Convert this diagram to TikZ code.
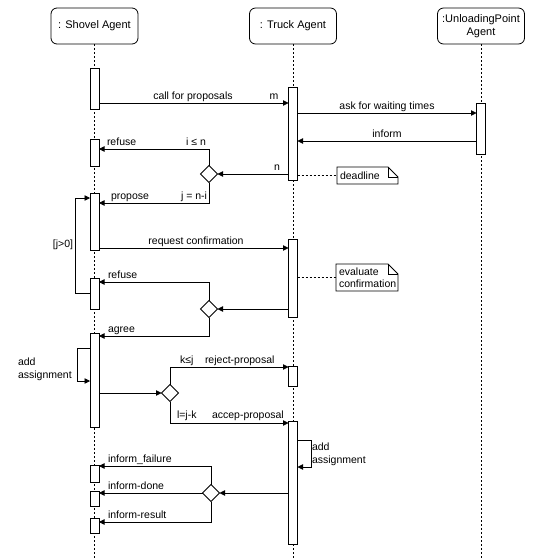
\documentclass[tikz,border=0pt]{standalone}
\usepackage{fontspec}
\setmainfont{Liberation Sans}
\usetikzlibrary{arrows.meta,calc,shapes.geometric}
\begin{document}
\begin{tikzpicture}[x=1pt,y=-1pt,
  every node/.style={inner sep=0pt,outer sep=0pt},
  lbl/.style={font=\fontsize{10.5}{13}\selectfont},
  header/.style={draw,fill=white,rounded corners=6pt,line width=0.8pt,
    minimum width=87pt,minimum height=36pt,align=center,
    font=\fontsize{11}{12.5}\selectfont},
  life/.style={dash pattern=on 2pt off 2pt,line width=0.7pt},
  actbox/.style={draw,fill=white,line width=0.8pt,minimum width=9pt},
  msg/.style={-{Triangle[length=5.5pt,width=5.5pt]},line width=0.8pt},
  dmd/.style={draw,fill=white,diamond,line width=0.8pt,minimum width=17pt,minimum height=17pt},
  notebox/.style={align=left,inner xsep=3pt,font=\fontsize{10.5}{12.5}\selectfont},
  noteline/.style={line width=0.8pt,fill=white}
]
\useasboundingbox (0,0) rectangle (542,558);
\newcommand\myact[4]{\node[actbox,minimum height={#4-#3}] (#1) at (#2,{(#3+#4)/2}) {};}

% headers
\node[header] (shovel) at (94.5,26) {: Shovel Agent};
\node[header] (truck) at (293,26) {: Truck Agent};
\node[header] (unload) at (481,26) {:UnloadingPoint\\Agent};
\coordinate (bottom) at (0,558);

% lifelines
\draw[life] (shovel.south) -- (shovel.south |- bottom);
\draw[life] (truck.south) -- (truck.south |- bottom);
\draw[life] (unload.south) -- (unload.south |- bottom);

% activations
\myact{sA1}{94.5}{68}{109}
\myact{sA2}{94.5}{139}{166}
\myact{sA3}{94.5}{193}{250}
\myact{sA4}{94.5}{278}{309}
\myact{sA5}{94.5}{333}{427}
\myact{sA6}{94.5}{465}{482}
\myact{sA7}{94.5}{491}{506}
\myact{sA8}{94.5}{518}{533}
\myact{tA1}{293}{87}{180}
\myact{tA2}{293}{239}{317}
\myact{tA3}{293}{366}{386}
\myact{tA4}{293}{421}{544}
\myact{uA1}{481}{103}{154}

% decision diamonds
\node[dmd] (d1) at (209,174) {};
\node[dmd] (d2) at (209,309) {};
\node[dmd] (d3) at (170,393) {};
\node[dmd] (d4) at (211,493) {};

% row levels
\coordinate (y103) at (0,103);
\coordinate (y113) at (0,113);
\coordinate (y141) at (0,141);
\coordinate (y149) at (0,149);
\coordinate (y203) at (0,203);
\coordinate (y248) at (0,248);
\coordinate (y282) at (0,282);
\coordinate (y293) at (0,293);
\coordinate (y336) at (0,336);
\coordinate (y348) at (0,348);
\coordinate (y367) at (0,367);
\coordinate (y423) at (0,423);
\coordinate (y440) at (0,440);
\coordinate (y466) at (0,466);
\coordinate (y522) at (0,522);
\coordinate (loopL) at (75,198);
\coordinate (aL) at (77,381);
\coordinate (aR) at (311,467);

% messages
\draw[msg] (sA1.east |- y103) -- (tA1.west |- y103);
\draw[msg] (tA1.east |- y113) -- (uA1.west |- y113);
\draw[msg] (uA1.west |- y141) -- (tA1.east |- y141);
\draw[msg] (tA1.west |- d1) -- (d1.east);
\draw[msg] (d1.north) |- (sA2.east |- y149);
\draw[msg] (d1.south) |- (sA3.east |- y203);
\draw[msg] (sA4.west |- y293) -| (loopL) -- (sA3.west |- loopL);
\draw[msg] (sA3.east |- y248) -- (tA2.west |- y248);
\draw[msg] (tA2.west |- d2) -- (d2.east);
\draw[msg] (d2.north) |- (sA4.east |- y282);
\draw[msg] (d2.south) |- (sA5.east |- y336);
\draw[msg] (sA5.west |- y348) -| (aL) -- (sA5.west |- aL);
\draw[msg] (sA5.east |- d3) -- (d3.west);
\draw[msg] (d3.north) |- (tA3.west |- y367);
\draw[msg] (d3.south) |- (tA4.west |- y423);
\draw[msg] (tA4.east |- y440) -| (aR) -- (tA4.east |- aR);
\draw[msg] (tA4.west |- d4) -- (d4.east);
\draw[msg] (d4.north) |- (sA6.east |- y466);
\draw[msg] (d4.west) -- (sA7.east |- d4);
\draw[msg] (d4.south) |- (sA8.east |- y522);

% labels
\node[lbl,anchor=base] (l1) at (193,99) {call for proposals};
\node[lbl,anchor=base] (l2) at (274,99) {m};
\node[lbl,anchor=base] (l3) at (387,109) {ask for waiting times};
\node[lbl,anchor=base] (l4) at (387,137) {inform};
\node[lbl,anchor=base] (l5) at (277,170) {n};
\node[lbl,anchor=base west] (l6) at (107,145) {refuse};
\node[lbl,anchor=base] (l7) at (196,145) {i ≤ n};
\node[lbl,anchor=base west] (l8) at (111,199) {propose};
\node[lbl,anchor=base] (l9) at (194,199) {j = n-i};
\node[lbl,anchor=base] (l10) at (63,247) {[j>0]};
\node[lbl,anchor=base] (l11) at (196,244) {request confirmation};
\node[lbl,anchor=base west] (l12) at (108,278) {refuse};
\node[lbl,anchor=base west] (l13) at (108,332) {agree};
\node[lbl,anchor=base west] (l14) at (180,363) {k≤j};
\node[lbl,anchor=base west] (l15) at (205,363) {reject-proposal};
\node[lbl,anchor=north west,align=left] (l16) at (18,358) {add\\assignment};
\node[lbl,anchor=base west] (l17) at (177,418) {l=j-k};
\node[lbl,anchor=base west] (l18) at (212,418) {accep-proposal};
\node[lbl,anchor=north west,align=left] (l19) at (312,443) {add\\assignment};
\node[lbl,anchor=base west] (l20) at (108,462) {inform\_failure};
\node[lbl,anchor=base west] (l21) at (108,489) {inform-done};
\node[lbl,anchor=base west] (l22) at (108,518) {inform-result};

% notes
\node[notebox,text width=55pt,minimum height=17pt,anchor=west] (nd1) at (337,175.5) {deadline};
\node[notebox,text width=56pt,minimum height=27pt,anchor=west] (nd2) at (336,277.5) {evaluate\\confirmation};
\foreach \n in {nd1,nd2}{
  \draw[noteline] (\n.north west) -- ($(\n.north east)+(-10,0)$) -- ($(\n.north east)+(0,10)$)
    -- (\n.south east) -- (\n.south west) -- cycle;
  \draw[line width=0.8pt] ($(\n.north east)+(-10,0)$) -- ++(0,10) -- ($(\n.north east)+(0,10)$);
}
\node[notebox,text width=55pt,minimum height=17pt,anchor=west] at (337,175.5) {deadline};
\node[notebox,text width=56pt,minimum height=27pt,anchor=west] at (336,277.5) {evaluate\\confirmation};
\draw[life] (tA1.east |- nd1.west) -- (nd1.west);
\draw[life] (tA2.east |- nd2.west) -- (nd2.west);
\end{tikzpicture}
\end{document}
